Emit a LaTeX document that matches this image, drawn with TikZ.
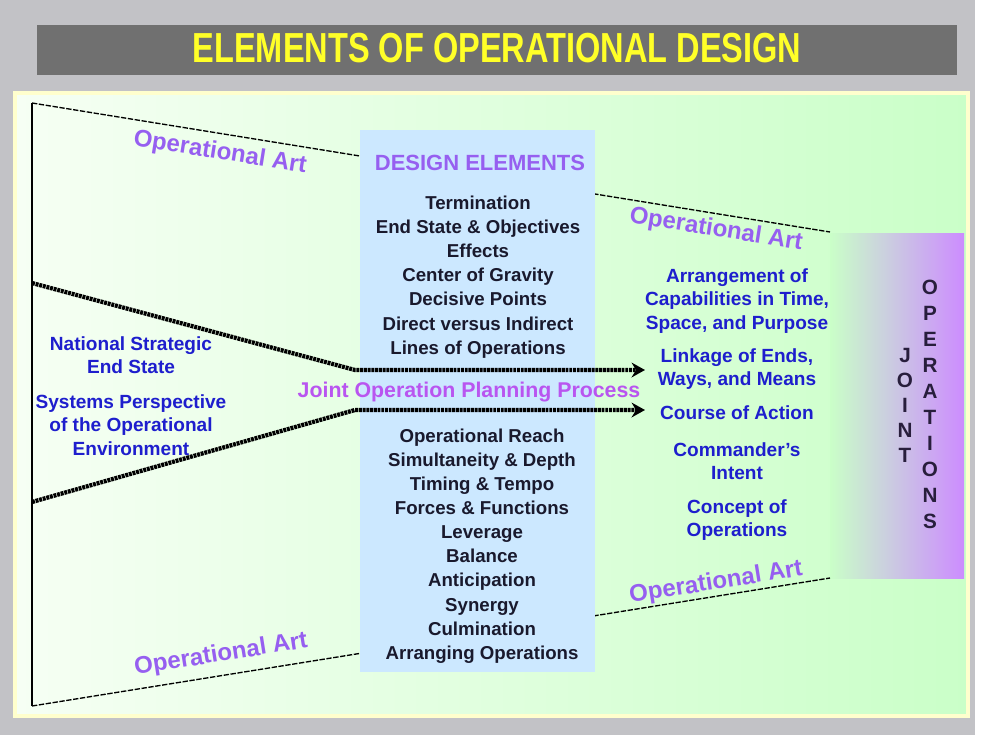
\documentclass[tikz,border=0pt]{standalone}
\usepackage{fontspec}
\setmainfont{Liberation Sans}
\usetikzlibrary{arrows.meta}

\definecolor{framegray}{RGB}{194,194,198}
\definecolor{bargray}{RGB}{112,112,112}
\definecolor{titleyellow}{RGB}{255,255,40}
\definecolor{panelleft}{RGB}{246,255,244}
\definecolor{panelright}{RGB}{202,255,200}
\definecolor{panelrim}{RGB}{255,255,205}
\definecolor{designblue}{RGB}{204,232,255}
\definecolor{jointpurple}{RGB}{204,140,255}
\definecolor{artpurple}{RGB}{150,95,240}
\definecolor{jopppurple}{RGB}{185,85,240}
\definecolor{listblack}{RGB}{25,25,45}
\definecolor{textblue}{RGB}{30,30,205}
\definecolor{letterdark}{RGB}{40,30,60}

\tikzset{
  opart/.style={text=artpurple, inner sep=1pt, font=\bfseries\fontsize{18}{20}\selectfont},
  elemlist/.style={align=center, text=listblack, inner sep=0pt, font=\bfseries\fontsize{14}{18.1}\selectfont},
  bluetext/.style={align=center, text=textblue, inner sep=0pt, font=\bfseries\fontsize{14.3}{17.4}\selectfont},
  funnel/.style={black, line width=1pt, dash pattern=on 4pt off 1.2pt},
  jopparrow/.style={black, line width=3.2pt, dash pattern=on 2.2pt off 0.6pt,
    -{Stealth[length=10pt,width=11pt]}},
  letters/.style={align=center, text=letterdark, inner sep=0pt, font=\bfseries\fontsize{15}{19}\selectfont},
}

\begin{document}
\begin{tikzpicture}[x=0.75pt,y=-0.75pt]
	\useasboundingbox (0,0) rectangle (981,742);
	\fill[white] (0,0) rectangle (981,742);
	\fill[framegray] (0,0) rectangle (975,735);
	% title bar
	\fill[bargray] (37,25) rectangle (957,75);
	\node[text=titleyellow, font=\bfseries\fontsize{31.5}{34}\selectfont] (title) at (497,48)
		{\scalebox{0.775}[1]{ELEMENTS OF OPERATIONAL DESIGN}};

	% panel
	\shade[left color=panelleft, right color=panelright] (15,93) rectangle (968,716);
	\draw[panelrim, line width=3pt] (15,93) rectangle (968,716);
	\shade[left color=panelright, right color=jointpurple] (830,233) rectangle (964,578);

	% funnel
	\coordinate (tl) at (32,103);
	\coordinate (tr) at (830,232);
	\coordinate (bl) at (32,706);
	\coordinate (br) at (830,578);
	\draw[funnel] (tl) -- (tr);
	\draw[funnel] (bl) -- (br);
	\draw[black, line width=1pt] (tl) -- (bl);

	% design elements box
	\fill[designblue] (360,130) rectangle (595,672);

	% planning arrows
	\coordinate (upstart) at (32,283);
	\coordinate (upbend) at (355,370);
	\coordinate (upend) at (645,370);
	\coordinate (lowstart) at (32,502);
	\coordinate (lowbend) at (355,410);
	\coordinate (lowend) at (645,410);
	\draw[jopparrow] (upstart) -- (upbend) -- (upend);
	\draw[jopparrow] (lowstart) -- (lowbend) -- (lowend);

	% operational art labels
	\node[opart, rotate=-9] (arttl) at (220,153) {Operational Art};
	\node[opart, rotate=-9] (arttr) at (716,230) {Operational Art};
	\node[opart, rotate=9] (artbr) at (716,583) {Operational Art};
	\node[opart, rotate=9] (artbl) at (221,655) {Operational Art};

	% design elements
	\node[text=artpurple, font=\bfseries\fontsize{16.5}{18}\selectfont] (dehead) at (480,163) {DESIGN ELEMENTS};
	\node[elemlist] (upperlist) at (478,277) {Termination\\End State \& Objectives\\Effects\\Center of Gravity\\Decisive Points\\Direct versus Indirect\\Lines of Operations};
	\node[text=jopppurple, font=\bfseries\fontsize{16}{18}\selectfont] (jopp) at (469,392) {Joint Operation Planning Process};
	\node[elemlist] (lowerlist) at (482,546) {Operational Reach\\Simultaneity \& Depth\\Timing \& Tempo\\Forces \& Functions\\Leverage\\Balance\\Anticipation\\Synergy\\Culmination\\Arranging Operations};

	% left side
	\node[bluetext] (natstate) at (131,355) {National Strategic\\End State};
	\node[bluetext] (sysview) at (131,425) {Systems Perspective\\of the Operational\\Environment};

	% right side
	\node[bluetext] (arrange) at (737,301) {Arrangement of\\Capabilities in Time,\\Space, and Purpose};
	\node[bluetext] (linkage) at (737,369) {Linkage of Ends,\\Ways, and Means};
	\node[bluetext] (coa) at (737,413) {Course of Action};
	\node[bluetext] (intent) at (737,461) {Commander's\\Intent};
	\node[bluetext] (conops) at (737,520) {Concept of\\Operations};

	% joint operations
	\node[letters, font=\bfseries\fontsize{15.5}{18.75}\selectfont] (joint) at (905,405) {J\\O\\I\\N\\T};
	\node[letters, font=\bfseries\fontsize{15.5}{19.5}\selectfont] (operations) at (930,404) {O\\P\\E\\R\\A\\T\\I\\O\\N\\S};
\end{tikzpicture}
\end{document}
